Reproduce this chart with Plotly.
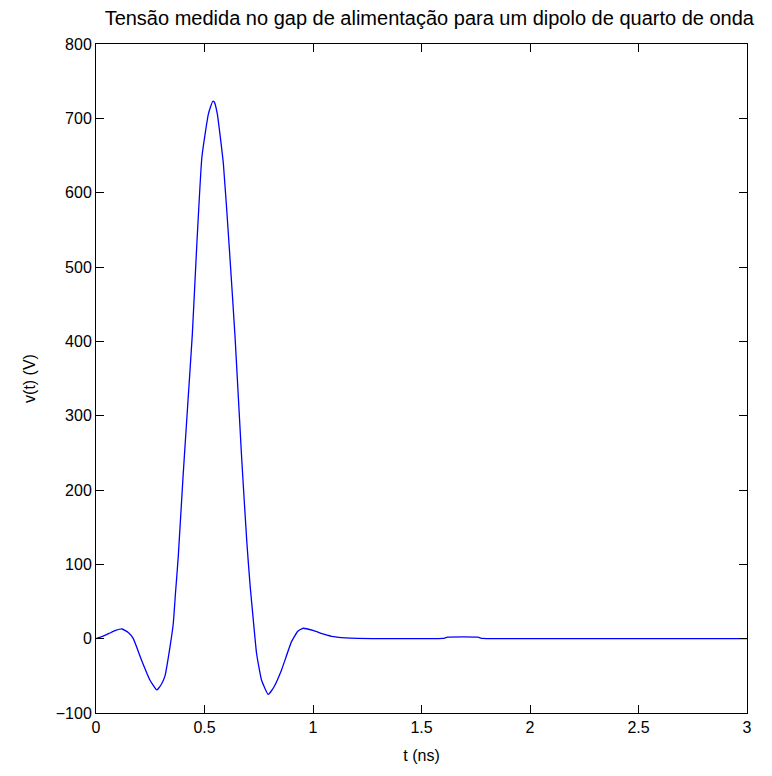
import plotly.graph_objects as go

t_ns = [0.0, 0.03, 0.06, 0.09, 0.12, 0.15, 0.172, 0.21, 0.249, 0.28, 0.30, 0.318,
        0.341, 0.356, 0.366, 0.379, 0.402, 0.425, 0.444, 0.464, 0.488, 0.518, 0.538,
        0.545, 0.559, 0.587, 0.614, 0.641, 0.671, 0.695, 0.710, 0.725, 0.740, 0.763,
        0.794, 0.82, 0.855, 0.901, 0.93, 0.955, 1.0, 1.05, 1.094, 1.15, 1.3, 1.5,
        1.6, 1.62, 1.76, 1.78, 2.0, 3.0]
v_volts = [0, 3, 7, 11, 13, 8, 0, -29, -56, -69, -62, -50,
           -11, 20, 60, 110, 222, 325, 410, 527, 648, 706, 723,
           722, 706, 639, 527, 405, 244, 130, 72, 25, -20, -56,
           -75, -65, -42, -4, 10, 14, 11, 6, 2.6, 1, 0, 0,
           0.3, 2, 2, 0.3, 0, 0]

x_ticks = [0, 0.5, 1, 1.5, 2, 2.5, 3]
x_tick_text = ["0", "0.5", "1", "1.5", "2", "2.5", "3"]
y_ticks = [-100, 0, 100, 200, 300, 400, 500, 600, 700, 800]

title_text = "Tensão medida no gap de alimentação para um dipolo de quarto de onda"

font = dict(family="Liberation Sans, Arial, sans-serif", size=16, color="black")
title_font = dict(family="Liberation Sans, Arial, sans-serif", size=20, color="black")

fig = go.Figure()
fig.add_trace(go.Scatter(x=t_ns, y=v_volts, mode="lines",
                         line=dict(color="#0000ff", width=1.3, shape="spline", smoothing=0.4),
                         showlegend=False))

axis_common = dict(showline=True, linecolor="black", linewidth=1, mirror="ticks",
                   ticks="inside", ticklen=8, tickcolor="black", tickwidth=1,
                   showgrid=False, zeroline=False, tickfont=font)

fig.update_layout(
    width=772, height=776,
    margin=dict(l=96, r=25, t=44, b=63),
    paper_bgcolor="white", plot_bgcolor="white",
    font=font,
    title=dict(text=title_text, x=0.512, xref="paper", xanchor="center",
               y=1 - 18 / 776, yanchor="middle", yref="container", font=title_font),
)
fig.update_xaxes(range=[0, 3], tickvals=x_ticks, ticktext=x_tick_text,
                 title=dict(text="t (ns)", font=font, standoff=14), **axis_common)
fig.update_yaxes(range=[-100, 800], tickvals=y_ticks,
                 title=dict(text="v(t) (V)", font=font, standoff=16), **axis_common)

fig.write_html("out.html")
